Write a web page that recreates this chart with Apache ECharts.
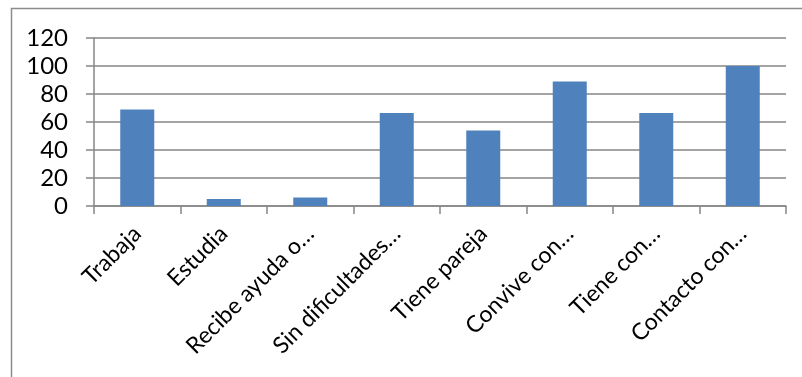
<!DOCTYPE html>
<html>
<head>
<meta charset="utf-8">
<script src="https://cdn.jsdelivr.net/npm/echarts@6/dist/echarts.min.js"></script>
<style>
  html, body { margin: 0; padding: 0; background: #fff; }
  #chart { width: 802px; height: 377px; }
</style>
</head>
<body>
<div id="chart"></div>
<script>
// categories and values
const categories = ['Trabaja', 'Estudia', 'Recibe ayuda o…', 'Sin dificultades…', 'Tiene pareja', 'Convive con…', 'Tiene con…', 'Contacto con…'];
const values = [69, 5, 6, 66.5, 54, 89, 66.5, 100];

const chart = echarts.init(document.getElementById('chart'));

const option = {
  animation: false,
  backgroundColor: '#fff',
  textStyle: { fontFamily: 'Lato' },
  graphic: [
    {
      type: 'rect',
      shape: { x: 11.5, y: 8.5, width: 820, height: 400 },
      style: { fill: 'none', stroke: '#8c8c8c', lineWidth: 1.5 },
      silent: true
    }
  ],
  grid: { left: 94, right: 16, top: 38, bottom: 171 },
  xAxis: {
    type: 'category',
    data: categories,
    axisLine: { lineStyle: { color: '#868686', width: 1.5 } },
    axisTick: { show: true, length: 8, lineStyle: { color: '#868686', width: 1.5 } },
    axisLabel: {
      rotate: 45,
      interval: 0,
      margin: 24,
      color: '#000',
      fontSize: 23,
      fontFamily: 'Lato'
    }
  },
  yAxis: {
    type: 'value',
    min: 0,
    max: 120,
    interval: 20,
    axisLine: { show: true, lineStyle: { color: '#868686', width: 1.5 } },
    axisTick: { show: true, length: 8, lineStyle: { color: '#868686', width: 1.5 } },
    axisLabel: { color: '#000', fontSize: 24, fontFamily: 'Lato', margin: 26 },
    splitLine: { lineStyle: { color: '#868686', width: 1.5 } }
  },
  series: [
    {
      type: 'bar',
      data: values,
      barWidth: 34,
      itemStyle: { color: '#4F81BD' }
    }
  ]
};

chart.setOption(option);
</script>
</body>
</html>
